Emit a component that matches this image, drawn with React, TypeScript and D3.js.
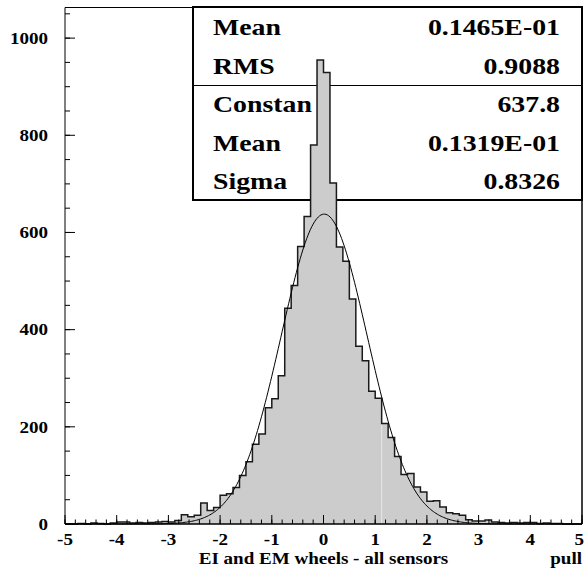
import React from 'react';
import * as d3 from 'd3';

// Histogram: 80 bins from -5 to 5 (width 0.125)
const histMin = -5;
const histMax = 5;
const binCount = 80;
const binCounts = [
  0, 0, 1, 0, 2, 1, 0, 2, 4, 4,
  2, 3, 2, 3, 4, 5, 4, 7, 19, 15,
  18, 43, 28, 34, 59, 62, 75, 100, 128, 164,
  185, 239, 258, 305, 444, 491, 571, 633, 780, 955,
  929, 702, 570, 541, 463, 366, 336, 273, 259, 207,
  178, 139, 102, 104, 76, 66, 47, 48, 35, 23,
  21, 18, 9, 6, 6, 8, 4, 3, 2, 3,
  2, 3, 3, 1, 2, 1, 1, 0, 0, 0,
];

const xTicks = [-5, -4, -3, -2, -1, 0, 1, 2, 3, 4, 5];
const yTicks = [0, 200, 400, 600, 800, 1000];
const yMax = 1063;

const statsLabelsTop = ['Mean', 'RMS'];
const statsValuesTop = ['0.1465E-01', '0.9088'];
const statsLabelsFit = ['Constan', 'Mean', 'Sigma'];
const statsValuesFit = ['637.8', '0.1319E-01', '0.8326'];

const fitConstant = 637.8;
const fitMean = 0.01319;
const fitSigma = 0.8326;

const xTitle = 'EI and EM wheels - all sensors';
const xUnit = 'pull';

const FONT = "'Liberation Serif', 'Times New Roman', serif";

export default function App() {
  const W = 584;
  const H = 569;
  const left = 65;
  const right = 582;
  const top = 7.5;
  const bottom = 524;

  const x = d3.scaleLinear().domain([histMin, histMax]).range([left, right]);
  const y = d3.scaleLinear().domain([0, yMax]).range([bottom, top]);
  const bw = (histMax - histMin) / binCount;
  const binStarts = d3.range(binCount).map((i) => histMin + i * bw);

  let outline = `M${x(histMin)},${y(0)}`;
  binCounts.forEach((c, i) => {
    outline += `L${x(binStarts[i])},${y(c)}L${x(binStarts[i] + bw)},${y(c)}`;
  });
  outline += `L${x(histMax)},${y(0)}`;
  const fillPath = outline + 'Z';

  const gaussX = d3.range(0, 401).map((i) => histMin + (i * (histMax - histMin)) / 400);
  const gauss = d3
    .line<number>()
    .x((v) => x(v))
    .y((v) => y(fitConstant * Math.exp(-0.5 * ((v - fitMean) / fitSigma) ** 2)));

  const xMinor = d3.range(-5, 5.0001, 0.2);
  const yMinor = d3.range(0, yMax, 50);

  const boxL = 193;
  const boxT = 7;
  const boxR = 582;
  const boxB = 200;
  const divY = 85.5;
  const labelX = 213;
  const valueX = 560;
  const topBaselines = [34.5, 73.5];
  const fitBaselines = [112, 150.5, 189];

  const sText = (
    tx: number,
    ty: number,
    s: string,
    anchor: string,
    size: number,
    sx: number,
    key?: string
  ) => (
    <text
      key={key}
      transform={`translate(${tx},${ty}) scale(${sx},1)`}
      textAnchor={anchor}
      fontFamily={FONT}
      fontWeight="bold"
      fontSize={size}
      fill="#000"
    >
      {s}
    </text>
  );

  return (
    <svg
      width={W}
      height={H}
      style={{ position: 'absolute', left: 0, top: 0, background: '#fff' }}
    >
      <rect x={0} y={0} width={W} height={H} fill="#fff" />
      {/* stats box */}
      <rect x={boxL} y={boxT} width={boxR - boxL} height={boxB - boxT} fill="#fff" stroke="#000" strokeWidth={2} />
      <line x1={boxL} x2={boxR} y1={divY} y2={divY} stroke="#000" strokeWidth={1} />
      {statsLabelsTop.map((s, i) => sText(labelX, topBaselines[i], s, 'start', 23, 1.21, 'lt' + i))}
      {statsValuesTop.map((s, i) => sText(valueX, topBaselines[i], s, 'end', 23, 1.21, 'vt' + i))}
      {statsLabelsFit.map((s, i) => sText(labelX, fitBaselines[i], s, 'start', 23, 1.21, 'lf' + i))}
      {statsValuesFit.map((s, i) => sText(valueX, fitBaselines[i], s, 'end', 23, 1.21, 'vf' + i))}

      {/* frame */}
      <line x1={left} x2={boxL} y1={top} y2={top} stroke="#000" strokeWidth={1} />
      <line x1={left} x2={left} y1={top} y2={bottom} stroke="#000" strokeWidth={1} />
      <line x1={right} x2={right} y1={top} y2={bottom} stroke="#000" strokeWidth={1.5} />

      {/* histogram */}
      <path d={fillPath} fill="#cccccc" stroke="none" />
      <line
        x1={x(binStarts[49])}
        x2={x(binStarts[49])}
        y1={y(binCounts[49]) + 1}
        y2={y(0)}
        stroke="#e8e8e8"
        strokeWidth={1}
      />
      <path d={outline} fill="none" stroke="#1a1a1a" strokeWidth={1.5} />
      <path d={gauss(gaussX) || ''} fill="none" stroke="#000" strokeWidth={1} />

      {/* axes */}
      <line x1={left} x2={right} y1={bottom} y2={bottom} stroke="#000" strokeWidth={1.5} />
      {xMinor.map((v, i) => (
        <line key={'xm' + i} x1={x(v)} x2={x(v)} y1={bottom} y2={bottom - 4.5} stroke="#000" strokeWidth={1} />
      ))}
      {xTicks.map((v) => (
        <line key={'xt' + v} x1={x(v)} x2={x(v)} y1={bottom} y2={bottom - 9} stroke="#000" strokeWidth={1} />
      ))}
      {yMinor.map((v, i) => (
        <line key={'ym' + i} x1={left} x2={left + 5} y1={y(v)} y2={y(v)} stroke="#000" strokeWidth={1} />
      ))}
      {yTicks.map((v) => (
        <line key={'yt' + v} x1={left} x2={left + 10} y1={y(v)} y2={y(v)} stroke="#000" strokeWidth={1} />
      ))}
      {yTicks.map((v) => sText(48, y(v) + 5.7, String(v), 'end', 16, 1.19, 'yl' + v))}
      {xTicks.map((v) =>
        v === histMax
          ? sText(584, 544.5, String(v), 'end', 16, 1.19, 'xl' + v)
          : sText(x(v), 544.5, String(v), 'middle', 16, 1.19, 'xl' + v)
      )}
      {sText(x(0), 563.5, xTitle, 'middle', 16, 1.19, 'xtitle')}
      {sText(right, 563.5, xUnit, 'end', 16, 1.19, 'xunit')}
    </svg>
  );
}
